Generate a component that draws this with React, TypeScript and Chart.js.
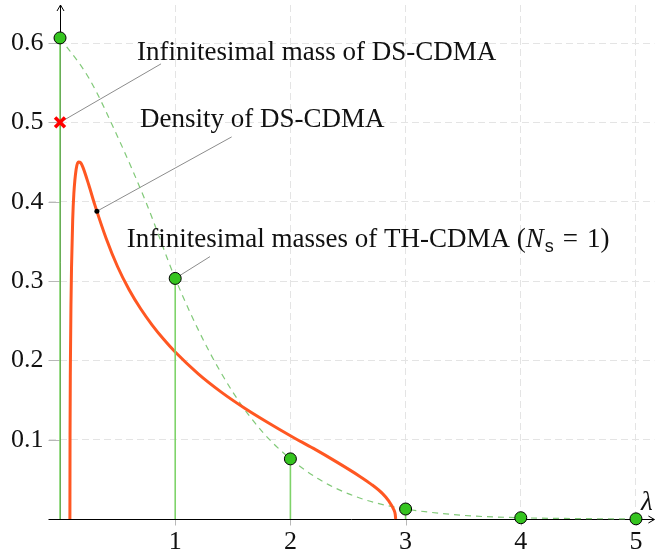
import React, { useEffect, useRef } from 'react';
import { Chart, registerables } from 'chart.js';

Chart.register(...registerables);

// ---- data ----
const massX = [0, 1, 2, 3, 4, 5];
const massY = [0.6065, 0.3033, 0.0758, 0.0126, 0.0016, 0.0002];

const envelopeX = [0, 0.25, 0.5, 0.75, 1, 1.25, 1.5, 1.75, 2, 2.25, 2.5, 2.75, 3, 3.5, 4, 4.5, 5];
const envelopeY = [0.6065, 0.556, 0.482, 0.398, 0.3033, 0.224, 0.16, 0.111, 0.0758, 0.05, 0.032, 0.02, 0.0126, 0.0046, 0.0016, 0.0005, 0.0002];

const densityX = [0.0858, 0.087, 0.09, 0.095, 0.1, 0.11, 0.12, 0.14, 0.16, 0.18, 0.2, 0.25, 0.3, 0.4, 0.5, 0.6, 0.7, 0.8, 0.9, 1.0, 1.2, 1.4, 1.6, 1.8, 2.0, 2.2, 2.4, 2.6, 2.7, 2.8, 2.85, 2.9, 2.91, 2.914];
const densityY = [0, 0.107, 0.193, 0.27, 0.318, 0.377, 0.41, 0.441, 0.45, 0.449, 0.443, 0.421, 0.397, 0.354, 0.318, 0.289, 0.265, 0.2445, 0.2265, 0.2105, 0.183, 0.16, 0.14, 0.122, 0.105, 0.089, 0.072, 0.054, 0.044, 0.032, 0.0235, 0.011, 0.006, 0];

const dsMassX = [0];
const dsMassY = [0.5];
const pinX = [0.32];
const pinY = [0.388];

const xTickValues = [1, 2, 3, 4, 5];
const xTickLabels = ['1', '2', '3', '4', '5'];
const yTickValues = [0.1, 0.2, 0.3, 0.4, 0.5, 0.6];
const yTickLabels = ['0.1', '0.2', '0.3', '0.4', '0.5', '0.6'];

const noteTexts = ['Infinitesimal mass of DS-CDMA', 'Density of DS-CDMA', 'Infinitesimal masses of TH-CDMA ('];
const noteX = [0.668, 0.694, 0.579];
const noteY = [0.5788, 0.4947, 0.3434];
const leaderFromX = [0, 0.32, 1];
const leaderFromY = [0.5, 0.388, 0.3033];
const leaderToX = [0.877, 1.49, 1.302];
const leaderToY = [0.5738, 0.4817, 0.3308];

const axisLabelX = 5.043;
const axisLabelY = 0.0113;

const SERIF = '"Liberation Serif", "Times New Roman", serif';
const FONT_SIZE = 27;

const decorPlugin = {
  id: 'decor',
  beforeDatasetsDraw(chart: any) {
    const { ctx, chartArea, scales } = chart;
    const xs = scales.x;
    const ys = scales.y;
    const x0 = Math.round(xs.getPixelForValue(0)) + 0.5;
    const y0 = Math.round(ys.getPixelForValue(0)) + 0.5;
    ctx.save();
    const seg = (a: number, b: number, c: number, d: number) => {
      ctx.beginPath();
      ctx.moveTo(a, b);
      ctx.lineTo(c, d);
      ctx.stroke();
    };
    // tick marks
    ctx.strokeStyle = '#b8b8b8';
    ctx.lineWidth = 1;
    xTickValues.forEach((v) => {
      const px = Math.round(xs.getPixelForValue(v)) + 0.5;
      seg(px, y0, px, y0 + 6);
    });
    yTickValues.forEach((v) => {
      const py = Math.round(ys.getPixelForValue(v)) + 0.5;
      seg(chartArea.left, py, x0, py);
    });
    // leader lines
    ctx.strokeStyle = '#8c8c8c';
    ctx.lineWidth = 1;
    leaderFromX.forEach((fx, i) => {
      seg(
        xs.getPixelForValue(fx),
        ys.getPixelForValue(leaderFromY[i]),
        xs.getPixelForValue(leaderToX[i]),
        ys.getPixelForValue(leaderToY[i])
      );
    });
    // axes
    ctx.strokeStyle = '#000';
    ctx.lineWidth = 1;
    const right = chartArea.right;
    const top = chartArea.top;
    seg(chartArea.left, y0, right, y0);
    seg(x0, y0, x0, top);
    // arrow heads
    ctx.beginPath();
    ctx.moveTo(right - 6, y0 - 3.5);
    ctx.lineTo(right, y0);
    ctx.lineTo(right - 6, y0 + 3.5);
    ctx.stroke();
    ctx.beginPath();
    ctx.moveTo(x0 - 3.5, top + 6);
    ctx.lineTo(x0, top);
    ctx.lineTo(x0 + 3.5, top + 6);
    ctx.stroke();
    ctx.restore();
  },
  afterDatasetsDraw(chart: any) {
    const { ctx, scales } = chart;
    const xs = scales.x;
    const ys = scales.y;
    ctx.save();
    ctx.fillStyle = '#111';
    ctx.textBaseline = 'alphabetic';
    ctx.textAlign = 'left';
    let endX = 0;
    let baseY = 0;
    noteTexts.forEach((t, i) => {
      const px = xs.getPixelForValue(noteX[i]);
      const py = ys.getPixelForValue(noteY[i]);
      ctx.font = `${FONT_SIZE}px ${SERIF}`;
      ctx.fillText(t, px, py);
      if (i === 2) {
        endX = px + ctx.measureText(t).width;
        baseY = py;
      }
    });
    // (N_s = 1) math part
    ctx.font = `italic ${FONT_SIZE}px ${SERIF}`;
    ctx.fillText('N', endX, baseY);
    endX += ctx.measureText('N').width;
    ctx.font = `18px "Liberation Sans", Arial, sans-serif`;
    ctx.fillText('s', endX + 1, baseY + 5);
    endX += ctx.measureText('s').width + 10;
    ctx.font = `${FONT_SIZE}px ${SERIF}`;
    ctx.fillText('=', endX, baseY);
    endX += ctx.measureText('=').width + 9;
    ctx.fillText('1)', endX, baseY);
    // axis label
    ctx.font = `italic ${FONT_SIZE}px ${SERIF}`;
    ctx.fillText('λ', xs.getPixelForValue(axisLabelX), ys.getPixelForValue(axisLabelY));
    ctx.restore();
  },
};

export default function App() {
  const canvasRef = useRef<HTMLCanvasElement | null>(null);

  useEffect(() => {
    if (!canvasRef.current) return;
    const pts = (xa: number[], ya: number[]) => xa.map((x, i) => ({ x, y: ya[i] }));
    const stemData = massX.flatMap((x, i) => [
      { x, y: 0 },
      { x, y: massY[i] },
      { x, y: null as any },
    ]);
    const tickFont = { family: SERIF, size: 26 };
    const chart = new Chart(canvasRef.current, {
      type: 'line',
      data: {
        datasets: [
          {
            data: pts(envelopeX, envelopeY),
            borderColor: 'rgba(115,195,105,0.9)',
            borderWidth: 1.2,
            borderDash: [6, 5],
            pointRadius: 0,
            cubicInterpolationMode: 'monotone',
            order: 6,
            clip: false,
          },
          {
            data: pts(densityX, densityY),
            borderColor: '#ff5722',
            borderWidth: 3,
            pointRadius: 0,
            cubicInterpolationMode: 'monotone',
            order: 5,
            clip: false,
          },
          {
            data: stemData,
            borderColor: '#7fd36a',
            borderWidth: 1.6,
            pointRadius: 0,
            spanGaps: false,
            order: 4,
            clip: false,
          },
          {
            data: pts(massX, massY),
            showLine: false,
            pointRadius: 6,
            pointBackgroundColor: '#35c41f',
            pointBorderColor: '#000',
            pointBorderWidth: 1,
            order: 3,
            clip: false,
          },
          {
            data: pts(dsMassX, dsMassY),
            showLine: false,
            pointStyle: 'crossRot',
            pointRadius: 7,
            pointBorderColor: '#ff0000',
            pointBorderWidth: 3.5,
            order: 2,
            clip: false,
          },
          {
            data: pts(pinX, pinY),
            showLine: false,
            pointRadius: 2.5,
            pointBackgroundColor: '#000',
            pointBorderColor: '#000',
            pointBorderWidth: 0,
            order: 1,
            clip: false,
          },
        ],
      } as any,
      options: {
        animation: false,
        responsive: false,
        devicePixelRatio: 1,
        layout: { autoPadding: false, padding: { top: 5, right: 4.6, left: 0, bottom: 0 } },
        plugins: { legend: { display: false }, tooltip: { enabled: false } },
        events: [],
        scales: {
          x: {
            type: 'linear',
            min: -0.1,
            max: 5.16,
            afterBuildTicks: (s: any) => {
              s.ticks = xTickValues.map((v) => ({ value: v }));
            },
            afterFit: (s: any) => {
              s.height = 40;
              s.paddingLeft = 0;
              s.paddingRight = 0;
            },
            ticks: {
              callback: (_v: any, i: number) => xTickLabels[i],
              font: tickFont,
              color: '#111',
              padding: 8,
              autoSkip: false,
              maxRotation: 0,
            },
            grid: { color: '#e4e4e4', lineWidth: 1, drawTicks: false },
            border: { display: false, dash: [7, 4] },
          },
          y: {
            type: 'linear',
            min: 0,
            max: 0.648,
            afterBuildTicks: (s: any) => {
              s.ticks = yTickValues.map((v) => ({ value: v }));
            },
            afterFit: (s: any) => {
              s.width = 48.5;
              s.paddingTop = 0;
              s.paddingBottom = 0;
            },
            ticks: {
              callback: (_v: any, i: number) => yTickLabels[i],
              font: tickFont,
              color: '#111',
              padding: 5,
              autoSkip: false,
            },
            grid: { color: '#e4e4e4', lineWidth: 1, drawTicks: false },
            border: { display: false, dash: [7, 4] },
          },
        },
      } as any,
      plugins: [decorPlugin],
    });
    return () => chart.destroy();
  }, []);

  return (
    <div style={{ position: 'absolute', left: 0, top: 0, width: 659, height: 559, background: '#fff' }}>
      <canvas ref={canvasRef} width={659} height={559} style={{ width: 659, height: 559, display: 'block' }} />
    </div>
  );
}
